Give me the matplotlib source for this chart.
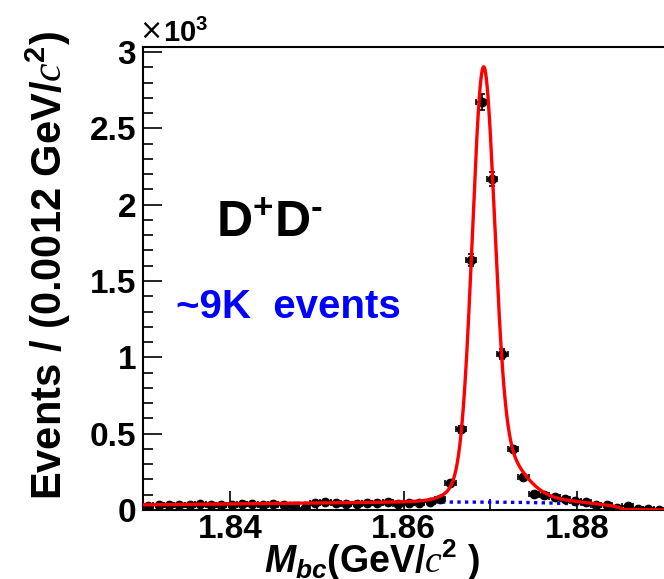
import numpy as np
import matplotlib
matplotlib.use("Agg")
import matplotlib.pyplot as plt
from matplotlib.ticker import FixedLocator, FuncFormatter

plt.rcParams['font.family'] = ['Liberation Sans', 'DejaVu Sans']
plt.rcParams['mathtext.fontset'] = 'custom'
plt.rcParams['mathtext.rm'] = 'Liberation Sans:bold'
plt.rcParams['mathtext.it'] = 'Liberation Sans:bold:italic'
plt.rcParams['mathtext.bf'] = 'Liberation Sans:bold'
plt.rcParams['mathtext.cal'] = 'Liberation Serif:italic'

# Mbc histogram, 50 bins of 1.2 MeV from 1.83 to 1.89
x_lo, x_hi = 1.83, 1.89
bin_w = 0.0012
counts = [25, 30, 32, 35, 30, 38, 34, 33, 36, 40,
          42, 33, 38, 30, 28, 15, 45, 55, 48, 42,
          40, 43, 45, 52, 40, 44, 48, 55, 70, 175,
          530, 1637, 2674, 2166, 1020, 400, 217, 107, 95, 83,
          75, 57, 50, 36, 34, 15, 23, 8, 4, 3]

# fit result: two gaussians + wide tail for the signal, ARGUS background
sig_mu, sig_sigma, sig_amp = 1.8692, 0.00125, 2530
wide_mu, wide_sigma, wide_amp = 1.8705, 0.0028, 330
tail_mu, tail_sigma, tail_amp = 1.873, 0.006, 30
argus_m0, argus_c, argus_peak = 1.8852, -25.0, 52.0

centers = x_lo + bin_w * (np.arange(len(counts)) + 0.5)
counts = np.array(counts, dtype=float)
errs = np.sqrt(counts)


def argus(m):
    z = 1 - (m / argus_m0) ** 2
    z = np.clip(z, 0, None)
    return m * np.sqrt(z) * np.exp(argus_c * z)


def gaus(m, mu, s, a):
    return a * np.exp(-0.5 * ((m - mu) / s) ** 2)


mm = np.linspace(x_lo, x_hi, 1200)
bkg = argus_peak / argus(mm).max() * argus(mm)
sig = (gaus(mm, sig_mu, sig_sigma, sig_amp) + gaus(mm, wide_mu, wide_sigma, wide_amp)
       + gaus(mm, tail_mu, tail_sigma, tail_amp))
total = sig + bkg

fig = plt.figure(figsize=(6.64, 5.79), dpi=100)
ax = fig.add_axes([143 / 664, 69 / 579, 521 / 664, 463.3 / 579])

ax.errorbar(centers, counts, xerr=bin_w / 2, yerr=errs, fmt='o', color='black',
            ms=6, elinewidth=1.2, capsize=2.5, capthick=1.2, zorder=3)
ax.plot(mm, bkg, color='#0000ff', lw=2.4, ls=(0, (1, 1.3)), zorder=2)
ax.plot(mm, total, color='#ff0000', lw=2.4, zorder=4)

ax.set_xlim(x_lo, x_hi)
ax.set_ylim(0, 3035)

ax.xaxis.set_major_locator(FixedLocator([1.84, 1.86, 1.88]))
ax.xaxis.set_minor_locator(FixedLocator([1.85, 1.87]))
ax.yaxis.set_major_locator(FixedLocator(np.arange(0, 3001, 500)))
ax.yaxis.set_minor_locator(FixedLocator(np.arange(0, 3001, 100)))
ax.yaxis.set_major_formatter(FuncFormatter(lambda v, p: '%g' % (v / 1000)))
ax.xaxis.set_major_formatter(FuncFormatter(lambda v, p: '%.2f' % v))

ax.tick_params(which='both', direction='in', top=False, right=False, width=1.2)
ax.tick_params(which='major', length=14, labelsize=24, pad=5)
ax.tick_params(axis='x', which='major', pad=3)
ax.tick_params(which='minor', length=7)
ax.tick_params(axis='x', which='minor', length=8)
for lab in ax.get_xticklabels() + ax.get_yticklabels():
    lab.set_fontweight('bold')
for side in ['left', 'bottom', 'top']:
    ax.spines[side].set_linewidth(1.5)
ax.spines['right'].set_visible(False)

# axis titles
fig.text(0.035, 1 - 500 / 579, r'Events / (0.0012 GeV/$\mathcal{c}^{2}$)', rotation=90,
         fontsize=30, fontweight='bold', ha='left', va='bottom')
fig.text(372 / 664, 1 - 560 / 579, r'$M_{bc}$(GeV/$\mathcal{c}^{2}$ )',
         fontsize=27, fontweight='bold', ha='center', va='center')

# exponent of the y axis
fig.text(139 / 664, 1 - 31 / 579, '\u00d7', fontsize=20, fontweight='normal',
         family='DejaVu Sans', ha='left', va='center')
fig.text(163 / 664, 1 - 33 / 579, r'10$^{3}$', fontsize=21, fontweight='bold',
         ha='left', va='center')

ax.text(0.14, 0.589, r'D$^{+}$D$^{\text{-}}$', transform=ax.transAxes, fontsize=36,
        fontweight='bold', ha='left', va='baseline')
ax.text(0.063, 0.414, '~9K  events', transform=ax.transAxes, fontsize=29,
        fontweight='bold', color='#0000ff', ha='left', va='baseline')

fig.savefig('out.png', dpi=100)
